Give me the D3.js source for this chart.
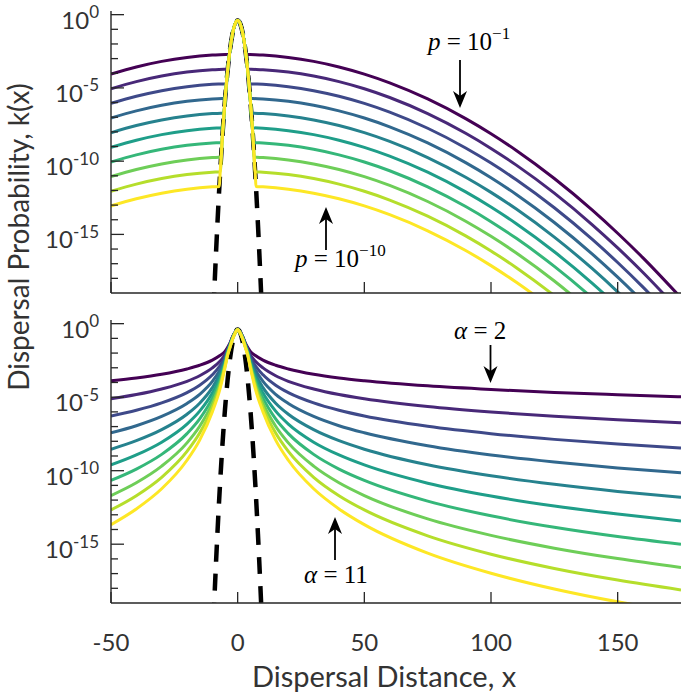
<!DOCTYPE html>
<html><head><meta charset="utf-8">
<script src="https://cdn.jsdelivr.net/npm/d3@7"></script>
<style>body{margin:0;background:#fff}svg{display:block}</style>
</head><body><svg id="c" width="685" height="692"></svg>
<script>
// ---------------- DATA (log10 of k(x)) ----------------
// Top panel: Gaussian mixtures, p = 1e-1 ... 1e-10
const pExponents = [-1,-2,-3,-4,-5,-6,-7,-8,-9,-10];
const topWideX = [-50,-40,-30,-20,-10,10,20,30,40,50,60,75,90,100,110,125,140,150,160,175];
const topLogK = [
 [-4.057,-3.569,-3.189,-2.917,-2.754,-2.754,-2.917,-3.189,-3.569,-4.057,-4.655,-5.754,-7.098,-8.13,-9.27,-11.184,-13.343,-14.92,-16.6,-19.33],
 [-5.057,-4.569,-4.189,-3.917,-3.754,-3.754,-3.917,-4.189,-4.569,-5.057,-5.655,-6.754,-8.098,-9.13,-10.27,-12.184,-14.343,-15.92,-17.6,-20.33],
 [-6.057,-5.569,-5.189,-4.917,-4.754,-4.754,-4.917,-5.189,-5.569,-6.057,-6.655,-7.754,-9.098,-10.13,-11.27,-13.184,-15.343,-16.92,-18.6,-21.33],
 [-7.057,-6.569,-6.189,-5.917,-5.754,-5.754,-5.917,-6.189,-6.569,-7.057,-7.655,-8.754,-10.098,-11.13,-12.27,-14.184,-16.343,-17.92,-19.6,-22.33],
 [-8.057,-7.569,-7.189,-6.917,-6.754,-6.754,-6.917,-7.189,-7.569,-8.057,-8.655,-9.754,-11.098,-12.13,-13.27,-15.184,-17.343,-18.92,-20.6,-23.33],
 [-9.057,-8.569,-8.189,-7.917,-7.754,-7.754,-7.917,-8.189,-8.569,-9.057,-9.655,-10.754,-12.098,-13.13,-14.27,-16.184,-18.343,-19.92,-21.6,-24.33],
 [-10.057,-9.569,-9.189,-8.917,-8.754,-8.754,-8.917,-9.189,-9.569,-10.057,-10.655,-11.754,-13.098,-14.13,-15.27,-17.184,-19.343,-20.92,-22.6,-25.33],
 [-11.057,-10.569,-10.189,-9.917,-9.754,-9.754,-9.917,-10.189,-10.569,-11.057,-11.655,-12.754,-14.098,-15.13,-16.27,-18.184,-20.343,-21.92,-23.6,-26.33],
 [-12.057,-11.569,-11.189,-10.917,-10.754,-10.754,-10.917,-11.189,-11.569,-12.057,-12.655,-13.754,-15.098,-16.13,-17.27,-19.184,-21.343,-22.92,-24.6,-27.33],
 [-13.057,-12.569,-12.189,-11.917,-11.754,-11.754,-11.917,-12.189,-12.569,-13.057,-13.655,-14.754,-16.098,-17.13,-18.27,-20.184,-22.343,-23.92,-25.6,-28.33]
];
const topCornerX = [3.26,3.90,4.46,4.95,5.39,5.81,6.19,6.55,6.90,7.22];
const topCornerLogK = [-2.706,-3.708,-4.711,-5.713,-6.716,-7.718,-8.721,-9.723,-10.726,-11.728];
const topPeakX = [-7,-6,-5,-4,-3,-2,-1,0,1,2,3,4,5,6,7];
const topPeakLogK = [-11.04,-8.216,-5.827,-3.873,-2.353,-1.267,-0.616,-0.399,-0.616,-1.267,-2.353,-3.873,-5.827,-8.216,-11.04];

// Narrow Gaussian (dashed), both panels
const gaussX = [-10,-9.5,-9,-8.5,-8,-7,-6,-5,-4,-3,-2,-1,0,1,2,3,4,5,6,7,8,8.5,9,9.5,10];
const gaussLogK = [-22.11,-19.99,-17.99,-16.09,-14.30,-11.04,-8.216,-5.827,-3.873,-2.353,-1.267,-0.616,-0.399,-0.616,-1.267,-2.353,-3.873,-5.827,-8.216,-11.04,-14.30,-16.09,-17.99,-19.99,-22.11];

// Bottom panel: power-law kernels, alpha = 2 ... 11
const alphas = [2,3,4,5,6,7,8,9,10,11];
const botX = [-50,-40,-30,-20,-15,-10,-7,-5,-4,-3,-2,-1,0,1,2,3,4,5,7,10,15,20,30,40,50,75,100,125,150,175];
const botLogK = [
 [-3.88,-3.69,-3.44,-3.08,-2.83,-2.48,-2.17,-1.88,-1.62,-1.30,-0.88,-0.58,-0.39,-0.58,-0.88,-1.30,-1.62,-1.88,-2.17,-2.48,-2.83,-3.08,-3.44,-3.69,-3.88,-4.23,-4.48,-4.68,-4.83,-4.97],
 [-5.11,-4.82,-4.44,-3.92,-3.54,-3.01,-2.55,-2.11,-1.72,-1.34,-0.90,-0.59,-0.39,-0.59,-0.90,-1.34,-1.72,-2.11,-2.55,-3.01,-3.54,-3.92,-4.44,-4.82,-5.11,-5.64,-6.01,-6.30,-6.54,-6.74],
 [-6.28,-5.89,-5.39,-4.69,-4.19,-3.48,-2.86,-2.28,-1.80,-1.38,-0.92,-0.60,-0.39,-0.60,-0.92,-1.38,-1.80,-2.28,-2.86,-3.48,-4.19,-4.69,-5.39,-5.89,-6.28,-6.98,-7.48,-7.87,-8.19,-8.46],
 [-7.42,-6.94,-6.31,-5.43,-4.81,-3.93,-3.15,-2.42,-1.87,-1.41,-0.94,-0.60,-0.39,-0.60,-0.94,-1.41,-1.87,-2.42,-3.15,-3.93,-4.81,-5.43,-6.31,-6.94,-7.42,-8.30,-8.93,-9.41,-9.81,-10.14],
 [-8.54,-7.96,-7.21,-6.16,-5.41,-4.35,-3.42,-2.54,-1.93,-1.45,-0.96,-0.61,-0.39,-0.61,-0.96,-1.45,-1.93,-2.54,-3.42,-4.35,-5.41,-6.16,-7.21,-7.96,-8.54,-9.60,-10.35,-10.93,-11.41,-11.81],
 [-9.61,-8.93,-8.06,-6.83,-5.95,-4.72,-3.66,-2.65,-1.98,-1.48,-0.98,-0.62,-0.39,-0.62,-0.98,-1.48,-1.98,-2.65,-3.66,-4.72,-5.95,-6.83,-8.06,-8.93,-9.61,-10.85,-11.72,-12.40,-12.95,-13.42],
 [-10.66,-9.89,-8.89,-7.48,-6.48,-5.07,-3.88,-2.74,-2.03,-1.51,-1.00,-0.62,-0.39,-0.62,-1.00,-1.51,-2.03,-2.74,-3.88,-5.07,-6.48,-7.48,-8.89,-9.89,-10.66,-12.07,-13.07,-13.85,-14.48,-15.01],
 [-11.69,-10.82,-9.69,-8.11,-6.98,-5.40,-4.08,-2.82,-2.08,-1.54,-1.02,-0.63,-0.39,-0.63,-1.02,-1.54,-2.08,-2.82,-4.08,-5.40,-6.98,-8.11,-9.69,-10.82,-11.69,-13.28,-14.40,-15.27,-15.98,-16.59],
 [-12.67,-11.70,-10.45,-8.69,-7.44,-5.70,-4.27,-2.90,-2.13,-1.57,-1.04,-0.63,-0.39,-0.63,-1.04,-1.57,-2.13,-2.90,-4.27,-5.70,-7.44,-8.69,-10.45,-11.70,-12.67,-14.43,-15.68,-16.65,-17.44,-18.11],
 [-13.67,-12.60,-11.23,-9.29,-7.92,-6.00,-4.45,-2.98,-2.18,-1.60,-1.06,-0.64,-0.39,-0.64,-1.06,-1.60,-2.18,-2.98,-4.45,-6.00,-7.92,-9.29,-11.23,-12.60,-13.67,-15.61,-16.98,-18.05,-18.92,-19.65]
];

// Axis ticks
const xTickValues = [-50,0,50,100,150];
const xTickLabels = ["-50","0","50","100","150"];
const yMajorExps = [0,-5,-10,-15];
const yMajorLabels = ["0","-5","-10","-15"];
const yMinorExps = d3.range(0,-19,-1);

const colors = ["#440154","#482878","#3e4989","#31688e","#26828e","#1f9e89","#35b779","#6ece58","#b5de2b","#fde725"];

// ---------------- LAYOUT ----------------
const svg = d3.select("#c");
svg.append("rect").attr("width",685).attr("height",692).attr("fill","#fff");
const X0 = 111, X1 = 681;
const x = d3.scaleLinear().domain([-50,175]).range([X0,X1]);
const axisCol = "#262626";
const tickFont = "Lato, 'Open Sans', sans-serif";

function panel(top, bottom, idx, drawFn){
  const y = d3.scaleLog().domain([1e-19, Math.pow(10,0.25)]).range([bottom, top]);
  const g = svg.append("g");
  const cid = "clip"+idx;
  svg.append("clipPath").attr("id",cid).append("rect")
     .attr("x",X0).attr("y",top-5).attr("width",X1-X0).attr("height",bottom-top+5);
  const plot = g.append("g").attr("clip-path","url(#"+cid+")");
  drawFn(plot, y);
  g.append("line").attr("x1",X0).attr("x2",X0).attr("y1",top).attr("y2",bottom).attr("stroke",axisCol).attr("stroke-width",1.4);
  g.append("line").attr("x1",X0).attr("x2",X1).attr("y1",bottom).attr("y2",bottom).attr("stroke",axisCol).attr("stroke-width",1.4);
  g.selectAll(".ymin").data(yMinorExps).enter().append("line")
    .attr("x1",X0).attr("x2",d=> yMajorExps.includes(d)?X0+13:X0+7)
    .attr("y1",d=>y(Math.pow(10,d))).attr("y2",d=>y(Math.pow(10,d)))
    .attr("stroke",axisCol).attr("stroke-width",1.3);
  g.selectAll(".xt").data(xTickValues).enter().append("line")
    .attr("x1",d=>x(d)).attr("x2",d=>x(d)).attr("y1",bottom).attr("y2",bottom-11)
    .attr("stroke",axisCol).attr("stroke-width",1.3);
  const yl = g.selectAll(".yl").data(yMajorExps).enter().append("text")
    .attr("x",99).attr("y",d=>y(Math.pow(10,d))+14)
    .attr("text-anchor","end").attr("fill","#333")
    .style("font-family",tickFont);
  yl.append("tspan").attr("font-size",24).text("10");
  yl.append("tspan").attr("font-size",17).attr("dy",-10.5).text((d,i)=>yMajorLabels[i]);
  return y;
}

const lineGen = y => d3.line().x(d=>x(d[0])).y(d=>y(Math.pow(10,d[1]))).curve(d3.curveMonotoneX);

function drawDashed(plot, y){
  plot.append("path").datum(gaussX.map((v,i)=>[v,gaussLogK[i]]))
    .attr("d",lineGen(y)).attr("fill","none").attr("stroke","#000")
    .attr("stroke-width",4.5).attr("stroke-dasharray","17,12");
}

// Top panel
panel(11, 293, 0, (plot, y)=>{
  drawDashed(plot, y);
  pExponents.forEach((p,i)=>{
    const pts = [];
    topWideX.forEach((xv,j)=>{ if(xv<0) pts.push([xv, topLogK[i][j]]); });
    pts.push([-topCornerX[i], topCornerLogK[i]]);
    topPeakX.forEach((xv,j)=>{ if(Math.abs(xv)<topCornerX[i]) pts.push([xv, topPeakLogK[j]]); });
    pts.push([topCornerX[i], topCornerLogK[i]]);
    topWideX.forEach((xv,j)=>{ if(xv>0) pts.push([xv, topLogK[i][j]]); });
    plot.append("path").datum(pts).attr("d",lineGen(y)).attr("fill","none")
      .attr("stroke",colors[i]).attr("stroke-width",3).attr("stroke-linejoin","round");
  });
});

// Bottom panel
panel(320, 603, 1, (plot, y)=>{
  drawDashed(plot, y);
  alphas.forEach((a,i)=>{
    plot.append("path").datum(botX.map((xv,j)=>[xv, botLogK[i][j]]))
      .attr("d",lineGen(y)).attr("fill","none")
      .attr("stroke",colors[i]).attr("stroke-width",3).attr("stroke-linejoin","round");
  });
});

// x tick labels (bottom panel)
svg.selectAll(".xl").data(xTickValues).enter().append("text")
  .attr("x",d=>x(d)).attr("y",651).attr("text-anchor","middle")
  .attr("font-size",24).attr("fill","#333").style("font-family",tickFont)
  .text((d,i)=>xTickLabels[i]);

// axis labels
svg.append("text").attr("x",384).attr("y",687).attr("text-anchor","middle")
  .attr("font-size",29).attr("fill","#333").style("font-family",tickFont)
  .text("Dispersal Distance, x");
svg.append("text").attr("transform","translate(29,237) rotate(-90)").attr("text-anchor","middle")
  .attr("font-size",28).attr("fill","#333").style("font-family",tickFont)
  .text("Dispersal Probability, k(x)");

// annotations
const serif = "'Liberation Serif','DejaVu Serif',serif";
function annot(xl, yb, sym, base, exp){
  const t = svg.append("text").attr("x",xl).attr("y",yb).attr("font-size",25)
    .attr("fill","#000").style("font-family",serif);
  t.append("tspan").attr("font-style","italic").text(sym);
  t.append("tspan").text(" = " + base);
  if(exp) t.append("tspan").attr("font-size",17).attr("dy",-11).text(exp);
}
function arrow(xc, yTail, yTip){
  const dir = yTip > yTail ? 1 : -1;
  svg.append("line").attr("x1",xc).attr("x2",xc).attr("y1",yTail).attr("y2",yTip-dir*10)
    .attr("stroke","#000").attr("stroke-width",1.8);
  svg.append("path").attr("fill","#000")
    .attr("d",`M${xc},${yTip} L${xc-7},${yTip-dir*17} L${xc},${yTip-dir*12} L${xc+7},${yTip-dir*17} Z`);
}
annot(428, 50, "p", "10", "\u22121");
arrow(460, 60, 108);
annot(295, 267, "p", "10", "\u221210");
arrow(326, 250, 207);
annot(454, 339, "\u03b1", "2", null);
arrow(490.5, 345, 383);
annot(304, 583, "\u03b1", "11", null);
arrow(335, 560, 517);
</script></body></html>
